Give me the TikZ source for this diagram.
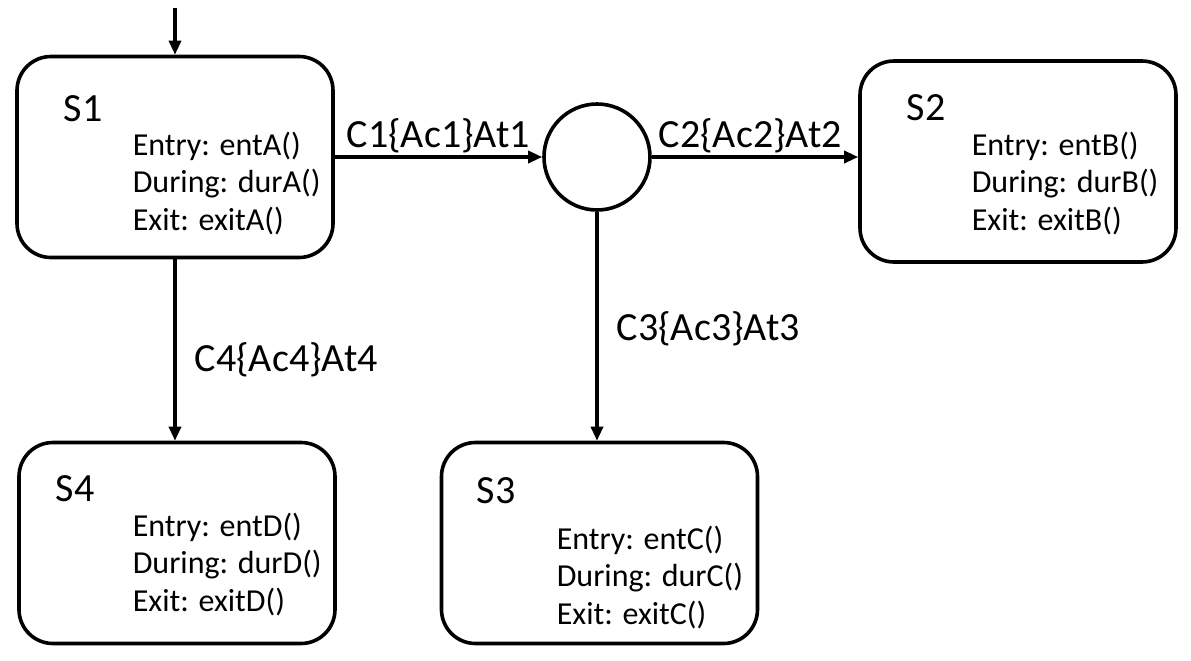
\documentclass[tikz,border=0pt]{standalone}
\usepackage{fontspec}
\setmainfont{Carlito}
\usepackage{tikz}
\usetikzlibrary{arrows.meta, positioning, calc}

\begin{document}
\begin{tikzpicture}[
  x=0.5pt, y=-0.5pt,
  line width=1.8pt,
  sbox/.style={draw, rounded corners=17pt, minimum width=158pt, minimum height=100.5pt, inner sep=0pt},
  junc/.style={draw, circle, minimum size=53pt, inner sep=0pt},
  stitle/.style={anchor=base west, inner sep=0pt, font=\fontsize{20pt}{24pt}\selectfont},
  sbody/.style={anchor=base west, inner sep=0pt, align=left, font=\fontsize{16pt}{18.75pt}\selectfont},
  trlabel/.style={anchor=base west, inner sep=0pt, font=\fontsize{20pt}{24pt}\selectfont},
  trans/.style={line width=1.6pt, -{Triangle[length=7pt, width=6pt]}}
]
  \useasboundingbox (0,0) rectangle (1191,660);

  \node[sbox] (s1) at (175, 157) {};
  \node[sbox] (s2) at (1018, 161.5) {};
  \node[sbox] (s3) at (599.5, 543) {};
  \node[sbox] (s4) at (177, 543) {};
  \node[junc] (j) at (597, 157) {};

  \node[stitle] (s1t) at (62, 121) {S1};
  \node[sbody] (s1b) at (131, 230) {Entry: entA()\\During: durA()\\Exit: exitA()};
  \node[stitle] (s2t) at (905, 120) {S2};
  \node[sbody] (s2b) at (970, 230) {Entry: entB()\\During: durB()\\Exit: exitB()};
  \node[stitle] (s3t) at (475, 503) {S3};
  \node[sbody] (s3b) at (555, 624) {Entry: entC()\\During: durC()\\Exit: exitC()};
  \node[stitle] (s4t) at (54, 501) {S4};
  \node[sbody] (s4b) at (131, 611) {Entry: entD()\\During: durD()\\Exit: exitD()};

  \coordinate (init) at (175, 8);
  \draw[trans] (init) -- (s1.north);
  \draw[trans] (s1.east) -- (j.west);
  \draw[trans] (j.east) -- (j.east -| s2.west);
  \draw[trans] (j.south) -- (j.south |- s3.north);
  \draw[trans] (s1.south) -- (s1.south |- s4.north);

  \node[trlabel] (c1) at (345, 147) {C1\{Ac1\}At1};
  \node[trlabel] (c2) at (657, 147) {C2\{Ac2\}At2};
  \node[trlabel] (c3) at (615, 340) {C3\{Ac3\}At3};
  \node[trlabel] (c4) at (193, 371) {C4\{Ac4\}At4};
\end{tikzpicture}
\end{document}
